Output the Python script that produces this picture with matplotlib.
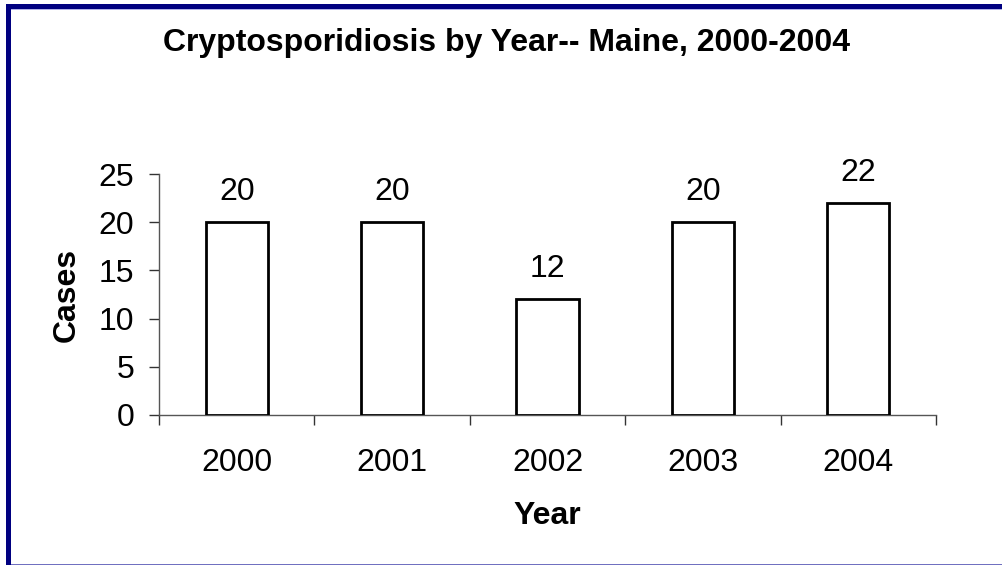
import matplotlib.pyplot as plt
from matplotlib.patches import Rectangle
import numpy as np

years = ['2000', '2001', '2002', '2003', '2004']
cases = [20, 20, 12, 20, 22]
y_ticks = [0, 5, 10, 15, 20, 25]

plt.rcParams['font.family'] = ['Liberation Sans', 'DejaVu Sans']

W, H = 1003, 565
fig = plt.figure(figsize=(W / 100, H / 100), dpi=100)
ax = fig.add_axes([159 / W, 1 - 415 / H, (936 - 159) / W, (415 - 174) / H])

x = np.arange(len(years))
ax.bar(x, cases, width=0.4, color='white', edgecolor='black', linewidth=2.0, zorder=3)

for xi, v in zip(x, cases):
    ax.annotate(str(v), (xi, v), xytext=(0, 11), textcoords='offset points',
                ha='center', va='bottom', fontsize=23)

ax.set_xlim(-0.5, len(years) - 0.5)
ax.set_ylim(0, 25)
ax.set_yticks(y_ticks)
ax.set_xticks(x)
ax.set_xticklabels(years, fontsize=23)
ax.tick_params(axis='x', length=0, pad=24)
ax.set_xticks(np.arange(len(years) + 1) - 0.5, minor=True)
ax.tick_params(axis='x', which='minor', length=7, width=1, color='#333333')
ax.tick_params(axis='y', labelsize=23, length=7, width=1, color='#333333', pad=11)

for s in ['top', 'right']:
    ax.spines[s].set_visible(False)
for s in ['left', 'bottom']:
    ax.spines[s].set_color('#555555')
    ax.spines[s].set_linewidth(1)

ax.set_ylabel('Cases', fontsize=23, fontweight='bold', labelpad=12)
ax.set_xlabel('Year', fontsize=23, fontweight='bold', labelpad=16)

fig.text(507 / W, 1 - 43 / H, 'Cryptosporidiosis by Year-- Maine, 2000-2004',
         ha='center', va='center', fontsize=23, fontweight='bold')

# frame around the chart (navy top and left, thin bottom line)
fig.add_artist(Rectangle((6 / W, 0), 5 / W, 1 - 4 / H, transform=fig.transFigure,
                         color='#000080', lw=0))
fig.add_artist(Rectangle((6 / W, 1 - 9 / H), 1 - 6 / W, 5 / H, transform=fig.transFigure,
                         color='#000080', lw=0))
fig.add_artist(Rectangle((11 / W, 1 - 10 / H), 1, 1 / H, transform=fig.transFigure,
                         color='#b0b0e8', lw=0))
fig.add_artist(Rectangle((11 / W, 0), 1, 1.5 / H, transform=fig.transFigure,
                         color='#7070c0', lw=0))

fig.savefig('out.png', dpi=100)
